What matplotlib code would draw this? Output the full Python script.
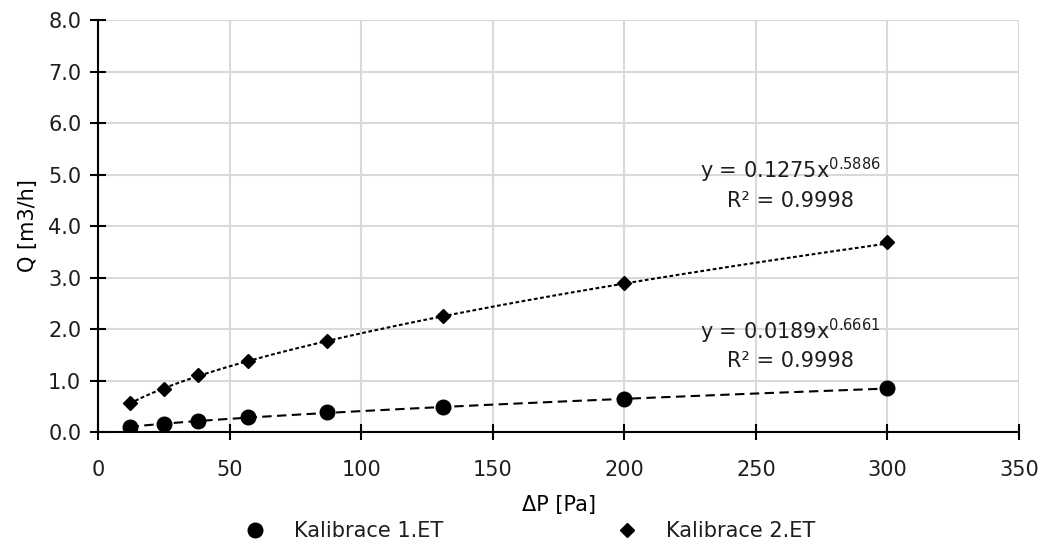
import numpy as np
import matplotlib
matplotlib.use("Agg")
import matplotlib.pyplot as plt
from matplotlib.lines import Line2D

plt.rcParams["font.family"] = ["DejaVu Sans"]
plt.rcParams["mathtext.fontset"] = "dejavusans"
plt.rcParams["text.color"] = "#1e1e1e"
FS = 15

# measured pressure drop [Pa] and flow [m3/h]
dp = [12, 25, 38, 57, 87, 131, 200, 300]
q_et1 = [0.10, 0.16, 0.21, 0.29, 0.39, 0.49, 0.64, 0.85]
q_et2 = [0.57, 0.84, 1.10, 1.37, 1.77, 2.26, 2.89, 3.69]

# power-law fits y = a * x^b, with R^2
fit_et1 = (0.0189, 0.6661, 0.9998)
fit_et2 = (0.1275, 0.5886, 0.9998)

fig = plt.figure(figsize=(10.42, 5.43), dpi=100)
ax = fig.add_axes([0.094, 0.2044, 0.884, 0.7586])

xs = np.linspace(min(dp), max(dp), 200)
ax.plot(xs, fit_et1[0] * xs ** fit_et1[1], color="black", lw=1.5,
        dashes=(4.5, 2.6), zorder=2)
ax.plot(xs, fit_et2[0] * xs ** fit_et2[1], color="black", lw=1.5,
        dashes=(1.8, 1.2), zorder=2)

ax.plot(dp, q_et1, "o", color="black", ms=10.5, ls="none", zorder=3)
ax.plot(dp, q_et2, "D", color="black", ms=7.5, ls="none", zorder=3)

ax.set_xlim(0, 350)
ax.set_ylim(0, 8)
ax.set_xticks(np.arange(0, 351, 50))
ax.set_yticks(np.arange(0, 8.1, 1))
ax.set_yticklabels([f"{v:.1f}" for v in np.arange(0, 8.1, 1)])
ax.grid(True, color="#d9d9d9", lw=1.5)
ax.set_axisbelow(True)
for side in ("top", "right"):
    ax.spines[side].set_visible(False)
for side in ("left", "bottom"):
    ax.spines[side].set_linewidth(1.5)
ax.tick_params(direction="inout", length=12, width=1.5, labelsize=FS,
               color="black", labelcolor="#1e1e1e")
ax.tick_params(axis="x", pad=14)
ax.tick_params(axis="y", pad=6)

ax.set_xlabel("ΔP [Pa]", fontsize=FS, labelpad=11)
ax.set_ylabel("Q [m3/h]", fontsize=FS, labelpad=7)

for fit, (xt, y1, y2) in ((fit_et2, (263, 5.08, 4.48)),
                          (fit_et1, (263, 1.95, 1.37))):
    ax.text(xt, y1, f"y = {fit[0]:.4f}x$^{{{fit[1]:.4f}}}$",
            ha="center", va="center", fontsize=FS)
    ax.text(xt, y2, f"R² = {fit[2]:.4f}",
            ha="center", va="center", fontsize=FS)

# legend entries placed under the axis
entries = [
    (Line2D([], [], marker="o", color="black", ls="none", ms=10.5),
     "Kalibrace 1.ET", 234 / 1042),
    (Line2D([], [], marker="D", color="black", ls="none", ms=7.5),
     "Kalibrace 2.ET", 606 / 1042),
]
for handle, label, x0 in entries:
    fig.legend([handle], [label], loc="center left",
               bbox_to_anchor=(x0, 1 - 531 / 543), frameon=False,
               fontsize=FS, borderpad=0, borderaxespad=0,
               handlelength=2.0, handletextpad=0.9)

fig.savefig("out.png", dpi=100)
